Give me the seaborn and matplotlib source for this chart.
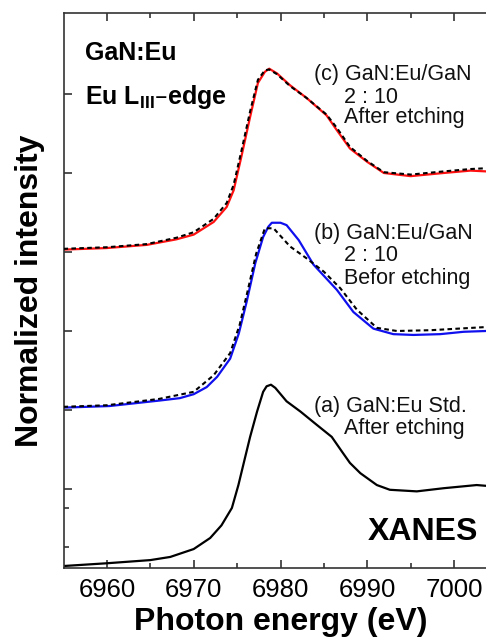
import numpy as np
import pandas as pd
import matplotlib
matplotlib.use("Agg")
import matplotlib.pyplot as plt
import seaborn as sns

# ---------------- data ----------------
energy_a = [6955, 6960, 6965.0, 6967.3, 6970.0, 6971.9, 6973.2, 6974.4, 6975.15, 6975.9,
            6976.5, 6977.3, 6978.0, 6978.4, 6978.9, 6979.4, 6980.7, 6982.3, 6984.2,
            6985.9, 6987.1, 6988.0, 6989.2, 6991.1, 6992.6, 6995.7, 6998.8, 7002.6, 7003.7]
int_a = [0.025, 0.06, 0.10, 0.14, 0.24, 0.38, 0.54, 0.76, 1.05, 1.39,
         1.66, 1.98, 2.23, 2.30, 2.32, 2.28, 2.11, 1.98, 1.81,
         1.66, 1.47, 1.33, 1.20, 1.05, 0.99, 0.97, 1.01, 1.05, 1.04]

energy_b = [6955, 6960.3, 6966.1, 6968.4, 6970.0, 6971.5, 6972.7, 6974.2, 6975.2, 6976.1, 6977.1,
            6978.0, 6978.6, 6979.0, 6980.0, 6980.7, 6982.1, 6983.8, 6986.5, 6988.4, 6990.7,
            6993.0, 6995.3, 6998.4, 7001.1, 7003.7]
int_b = [2.03, 2.05, 2.12, 2.15, 2.20, 2.29, 2.42, 2.65, 2.97, 3.37, 3.86,
         4.19, 4.32, 4.37, 4.37, 4.34, 4.15, 3.84, 3.52, 3.24, 3.03,
         2.96, 2.95, 2.96, 2.99, 3.00]

energy_b_ref = [6955, 6960, 6966, 6970, 6972.3, 6974.2, 6975.3, 6976.2, 6977.2, 6978.2,
                6979.2, 6981.1, 6983.0, 6985.0, 6986.9, 6988.8, 6991.1, 6993.4, 6997.3, 7003.7]
int_b_ref = [2.04, 2.06, 2.14, 2.23, 2.44, 2.72, 3.08, 3.50, 3.98, 4.30,
             4.30, 4.07, 3.92, 3.75, 3.54, 3.27, 3.04, 3.00, 3.01, 3.05]

energy_c = [6955, 6960, 6964.6, 6968.0, 6970, 6972.3, 6973.8, 6974.6, 6975.5, 6976.5,
            6977.4, 6978.2, 6978.7, 6979.6, 6981.1, 6983.0, 6985.3, 6986.5, 6988.0,
            6990.0, 6991.9, 6995.0, 6998.8, 7001.9, 7003.7]
int_c = [4.03, 4.05, 4.09, 4.16, 4.22, 4.38, 4.57, 4.78, 5.21, 5.71,
         6.14, 6.28, 6.32, 6.26, 6.11, 5.95, 5.73, 5.54, 5.31,
         5.14, 5.00, 4.96, 5.00, 5.03, 5.02]
int_c_ref = [4.04, 4.06, 4.10, 4.18, 4.25, 4.42, 4.62, 4.85, 5.28, 5.78,
             6.18, 6.30, 6.31, 6.25, 6.10, 5.95, 5.74, 5.57, 5.33,
             5.15, 5.01, 4.98, 5.02, 5.05, 5.06]

x_ticks = [6960, 6970, 6980, 6990, 7000]
x_tick_labels = ["6960", "6970", "6980", "6990", "7000"]

# ---------------- style ----------------
sns.set_theme(style="ticks")
plt.rcParams["font.family"] = ["Liberation Sans", "DejaVu Sans"]
plt.rcParams["mathtext.default"] = "regular"
plt.rcParams["axes.edgecolor"] = "#333333"
plt.rcParams["axes.linewidth"] = 1.2
plt.rcParams["text.color"] = "black"
plt.rcParams["axes.labelcolor"] = "black"

fig = plt.figure(figsize=(4.86, 6.42), dpi=100)
ax = fig.add_axes([63.5 / 486, (642 - 568) / 642, 434 / 486, (568 - 13) / 642])

def draw(x, y, color, ls="-", lw=1.6, z=2):
    df = pd.DataFrame({"energy": x, "intensity": y})
    sns.lineplot(data=df, x="energy", y="intensity", ax=ax, color=color,
                 linestyle=ls, linewidth=lw, sort=False, estimator=None, zorder=z)

dash = (0, (2.2, 1.6))
draw(energy_a, int_a, "black")
draw(energy_b, int_b, "#1010ee")
draw(energy_b_ref, int_b_ref, "black", ls=dash, lw=1.5, z=3)
draw(energy_c, int_c, "#ff1010")
draw(energy_c, int_c_ref, "black", ls=dash, lw=1.5, z=3)

ax.set_xlim(6955, 7005)
ax.set_ylim(0, 7.025)
ax.set_xticks(x_ticks)
ax.set_xticklabels(x_tick_labels)
ax.set_xticks([6965, 6975, 6985, 6995, 7005], minor=True)
ax.set_yticks([1, 2, 3, 4, 5, 6])
ax.set_yticks([0.27, 0.76], minor=True)
ax.set_yticklabels([])
ax.tick_params(axis="x", which="both", direction="in", top=True, bottom=True,
               labelsize=18.5, pad=7, colors="#222222", labelcolor="black")
ax.tick_params(axis="y", which="both", direction="in", left=True, right=False,
               colors="#222222")
ax.tick_params(which="major", length=6, width=1.1)
ax.tick_params(which="minor", length=3.5, width=1.1)
for s in ["top", "bottom", "left", "right"]:
    ax.spines[s].set_visible(True)

ax.set_xlabel("Photon energy (eV)", fontsize=23, fontweight="bold", labelpad=4)
ax.set_ylabel("Normalized intensity", fontsize=23, fontweight="bold", labelpad=10)

# ---------------- annotations ----------------
tk = dict(fontsize=15.5, va="center", ha="left", color="#111111")
ax.text(6957.5, 6.52, "GaN:Eu", fontsize=18, fontweight="bold", va="center", ha="left")
ax.text(6957.5, 5.96, "Eu L$_{III}$–edge", fontsize=18, fontweight="bold", va="center", ha="left")

ax.text(6983.9, 6.25, "(c) GaN:Eu/GaN", **tk)
ax.text(6987.3, 5.96, "2 : 10", **tk)
ax.text(6987.3, 5.70, "After etching", **tk)

ax.text(6983.9, 4.24, "(b) GaN:Eu/GaN", **tk)
ax.text(6987.3, 3.95, "2 : 10", **tk)
ax.text(6987.3, 3.67, "Befor etching", **tk)

ax.text(6983.9, 2.04, "(a) GaN:Eu Std.", **tk)
ax.text(6987.3, 1.76, "After etching", **tk)

ax.text(7002.8, 0.46, "XANES", fontsize=23, fontweight="bold", va="center", ha="right")

fig.savefig("out.png", dpi=100)
